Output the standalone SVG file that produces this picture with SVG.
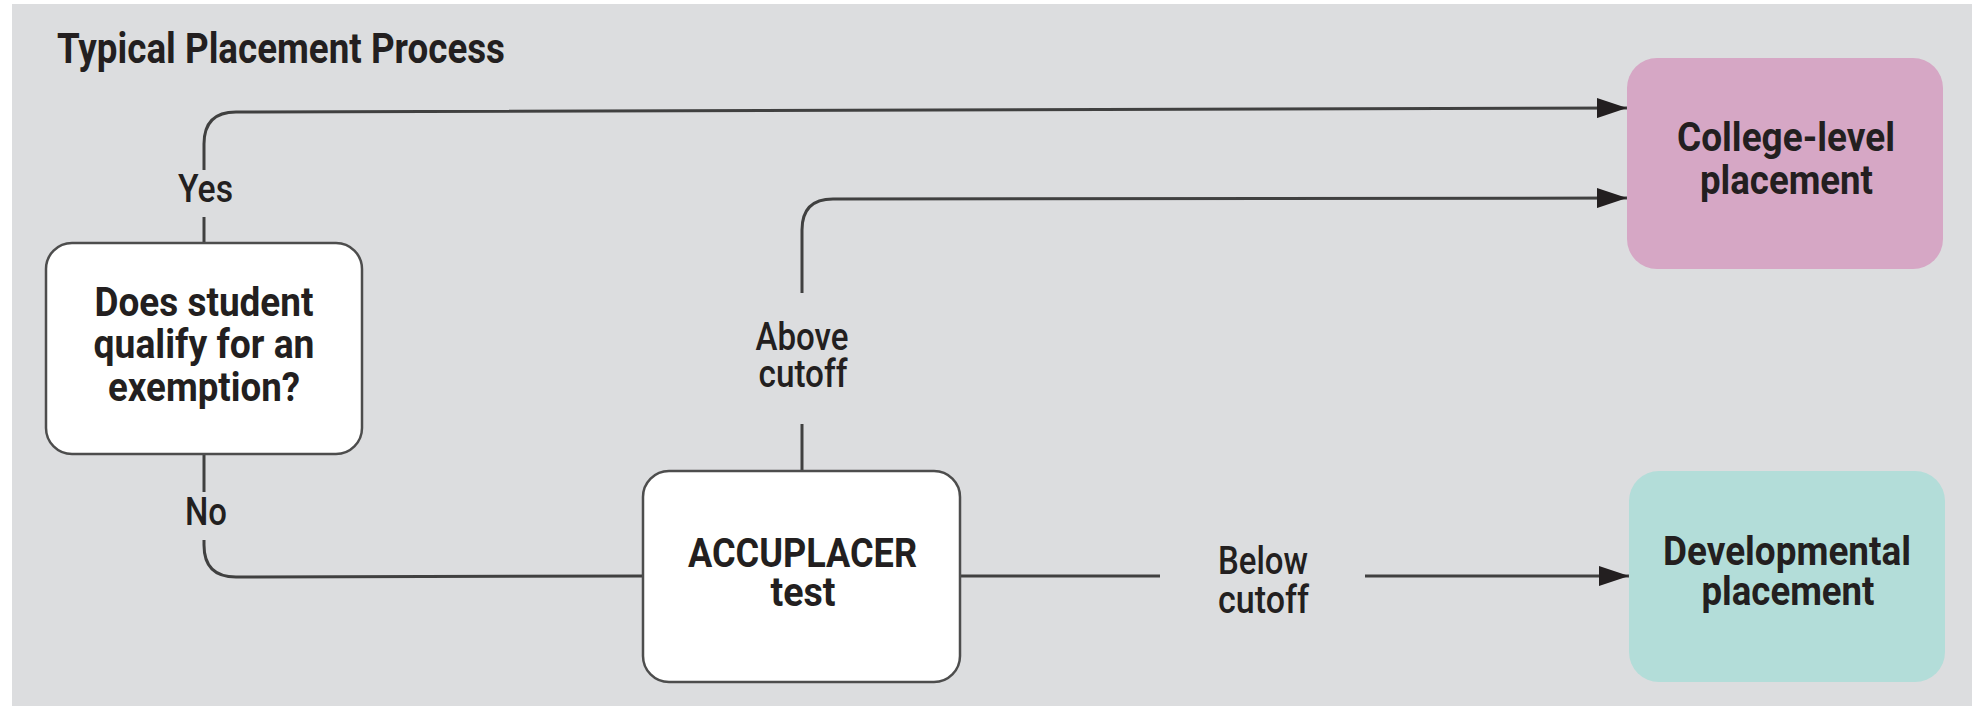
<svg xmlns="http://www.w3.org/2000/svg" width="1972" height="706" viewBox="0 0 1972 706">
<style>
  .t { font-family: Roboto, "Liberation Sans", sans-serif; font-weight: 700; fill: #231f20; text-anchor: middle; font-size: 40px; }
  .lbl { font-family: Roboto, "Liberation Sans", sans-serif; font-weight: 500; fill: #231f20; text-anchor: middle; font-size: 38px; }
  .title { font-family: Roboto, "Liberation Sans", sans-serif; font-weight: 700; fill: #231f20; font-size: 42px; }
  .wbox { fill: #ffffff; stroke: #4d4d4d; stroke-width: 2.5; }
  .conn { fill: none; stroke: #404040; stroke-width: 3; }
</style>
<defs>
  <marker id="arr" markerUnits="userSpaceOnUse" viewBox="0 0 30 20" refX="30" refY="10" markerWidth="30" markerHeight="20" orient="auto">
    <path d="M0,0 L30,10 L0,20 Z" fill="#231f20"/>
  </marker>
</defs>
<rect x="0" y="0" width="1972" height="706" fill="#ffffff"/>
<rect x="12" y="4" width="1960" height="702" fill="#dcdddf"/>
<text class="title" x="57" y="63" textLength="448" lengthAdjust="spacingAndGlyphs">Typical Placement Process</text>

<g id="connectors">
  <path class="conn" d="M204,243 V217"/>
  <path class="conn" d="M204,170 V144 Q204,112 236,112 L1627,108" marker-end="url(#arr)"/>
  <path class="conn" d="M802,471 V424"/>
  <path class="conn" d="M802,293 V230 Q802,199 833,199 L1627,198" marker-end="url(#arr)"/>
  <path class="conn" d="M204,454 V492"/>
  <path class="conn" d="M204,540 V545 Q204,577 236,577 L643,576"/>
  <path class="conn" d="M960,576 H1160"/>
  <path class="conn" d="M1365,576 H1629" marker-end="url(#arr)"/>
  <text class="lbl" x="205.5" y="202" textLength="55" lengthAdjust="spacingAndGlyphs">Yes</text>
  <text class="lbl" x="206" y="525" textLength="42" lengthAdjust="spacingAndGlyphs">No</text>
  <text class="lbl" x="802" y="350" textLength="93" lengthAdjust="spacingAndGlyphs">Above</text>
  <text class="lbl" x="803" y="387" textLength="89" lengthAdjust="spacingAndGlyphs">cutoff</text>
  <text class="lbl" x="1263" y="574" textLength="90" lengthAdjust="spacingAndGlyphs">Below</text>
  <text class="lbl" x="1263.5" y="613" textLength="91" lengthAdjust="spacingAndGlyphs">cutoff</text>
</g>

<g id="exemption">
  <rect class="wbox" x="46" y="243" width="316" height="211" rx="26" ry="26"/>
  <text class="t" x="204" y="316" textLength="219" lengthAdjust="spacingAndGlyphs">Does student</text>
  <text class="t" x="204" y="358" textLength="221" lengthAdjust="spacingAndGlyphs">qualify for an</text>
  <text class="t" x="204" y="401" textLength="192" lengthAdjust="spacingAndGlyphs">exemption?</text>
</g>

<g id="accuplacer">
  <rect class="wbox" x="643" y="471" width="317" height="211" rx="26" ry="26"/>
  <text class="t" x="802.5" y="567" textLength="229" lengthAdjust="spacingAndGlyphs">ACCUPLACER</text>
  <text class="t" x="803" y="606" textLength="65" lengthAdjust="spacingAndGlyphs">test</text>
</g>

<g id="college">
  <rect x="1627" y="58" width="316" height="211" rx="30" ry="30" fill="#d6a7c5"/>
  <text class="t" x="1786" y="151" textLength="218" lengthAdjust="spacingAndGlyphs">College-level</text>
  <text class="t" x="1786.5" y="194" textLength="173" lengthAdjust="spacingAndGlyphs">placement</text>
</g>

<g id="developmental">
  <rect x="1629" y="471" width="316" height="211" rx="30" ry="30" fill="#b3ddd9"/>
  <text class="t" x="1787" y="565" textLength="248" lengthAdjust="spacingAndGlyphs">Developmental</text>
  <text class="t" x="1788" y="605" textLength="173" lengthAdjust="spacingAndGlyphs">placement</text>
</g>
</svg>
